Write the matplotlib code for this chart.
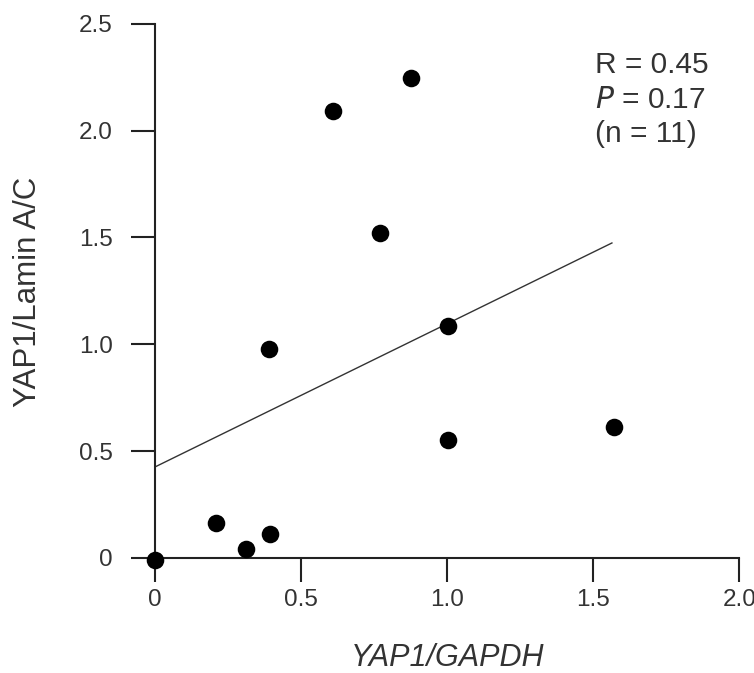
import matplotlib
matplotlib.use("Agg")
import matplotlib.pyplot as plt
import numpy as np

# Data
x_vals = [0.0, 0.208, 0.311, 0.394, 0.39, 0.610, 0.875, 0.770, 1.003, 1.003, 1.571]
y_vals = [-0.01, 0.163, 0.042, 0.111, 0.98, 2.093, 2.248, 1.522, 1.086, 0.55, 0.613]
fit_x = [0.0, 1.564]
fit_y = [0.426, 1.474]
x_ticks = [0, 0.5, 1.0, 1.5, 2.0]
x_ticklabels = ["0", "0.5", "1.0", "1.5", "2.0"]
y_ticks = [0, 0.5, 1.0, 1.5, 2.0, 2.5]
y_ticklabels = ["0", "0.5", "1.0", "1.5", "2.0", "2.5"]

plt.rcParams['font.family'] = ['Liberation Sans', 'DejaVu Sans']

fig = plt.figure(figsize=(7.54, 6.73), dpi=100)
ax = fig.add_axes([155/754, 1-558/673, (739.3-155)/754, (558-23.7)/673])

ax.plot(fit_x, fit_y, color='#333333', lw=1.0, zorder=2)
ax.scatter(x_vals, y_vals, s=160, color='black', zorder=3, clip_on=False, linewidths=0)

ax.set_xlim(0, 2.0)
ax.set_ylim(0, 2.5)
ax.set_xticks(x_ticks)
ax.set_xticklabels(x_ticklabels)
ax.set_yticks(y_ticks)
ax.set_yticklabels(y_ticklabels)

for s in ['top', 'right']:
    ax.spines[s].set_visible(False)
for s in ['left', 'bottom']:
    ax.spines[s].set_linewidth(1.5)
    ax.spines[s].set_color('#222222')

ax.tick_params(axis='both', direction='out', length=17, width=1.5, color='#222222',
               labelsize=17.5, labelcolor='#333333')
ax.tick_params(axis='x', pad=5)
ax.tick_params(axis='y', pad=13.5)

ax.set_xlabel('YAP1/GAPDH', fontsize=22, style='italic', color='#333333',
              ha='center', va='center')
ax.xaxis.set_label_coords(0.5, (558-658)/534.3)
ax.set_ylabel('YAP1/Lamin A/C', fontsize=22.5, color='#333333',
              ha='center', va='center')
ax.yaxis.set_label_coords((28-155)/584.3, (558-292)/534.3)

ax.text(595/754, 1-65/673, 'R = 0.45', transform=fig.transFigure, fontsize=21.5,
        color='#333333', va='center', ha='left')
ax.text(595/754, 1-100/673, r'$\it{P}$ = 0.17', transform=fig.transFigure, fontsize=21.5,
        color='#333333', va='center', ha='left')
ax.text(595/754, 1-134/673, '(n = 11)', transform=fig.transFigure, fontsize=21.5,
        color='#333333', va='center', ha='left')

fig.savefig('out.png', dpi=100)
